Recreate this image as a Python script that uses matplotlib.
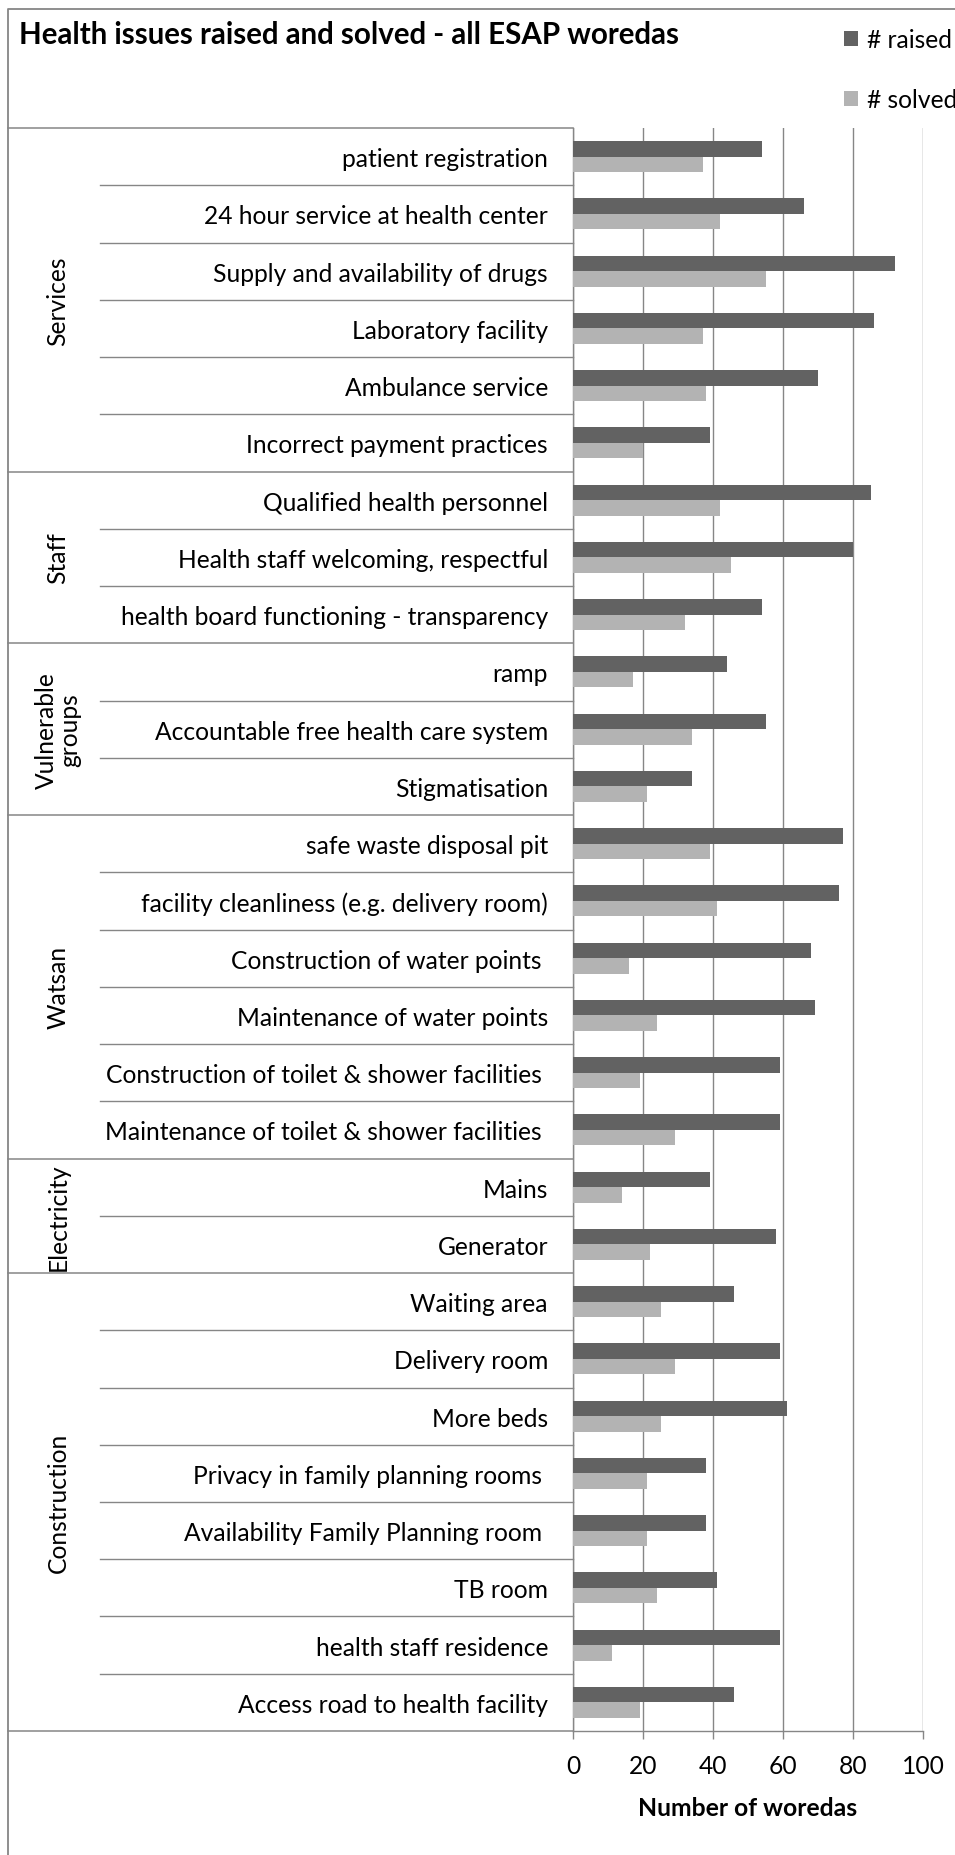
import matplotlib
matplotlib.use("Agg")
import matplotlib.pyplot as plt
from matplotlib.transforms import blended_transform_factory
from matplotlib.lines import Line2D
import numpy as np

# ---------------- data ----------------
categories = [
    "patient registration",
    "24 hour service at health center",
    "Supply and availability of drugs",
    "Laboratory facility",
    "Ambulance service",
    "Incorrect payment practices",
    "Qualified health personnel",
    "Health staff welcoming, respectful",
    "health board functioning - transparency",
    "ramp",
    "Accountable free health care system",
    "Stigmatisation",
    "safe waste disposal pit",
    "facility cleanliness (e.g. delivery room)",
    "Construction of water points ",
    "Maintenance of water points",
    "Construction of toilet & shower facilities ",
    "Maintenance of toilet & shower facilities ",
    "Mains",
    "Generator",
    "Waiting area",
    "Delivery room",
    "More beds",
    "Privacy in family planning rooms ",
    "Availability Family Planning room ",
    "TB room",
    "health staff residence",
    "Access road to health facility",
]
raised = [54, 66, 92, 86, 70, 39, 85, 80, 54, 44, 55, 34, 77, 76, 68, 69, 59, 59,
          39, 58, 46, 59, 61, 38, 38, 41, 59, 46]
solved = [37, 42, 55, 37, 38, 20, 42, 45, 32, 17, 34, 21, 39, 41, 16, 24, 19, 29,
          14, 22, 25, 29, 25, 21, 21, 24, 11, 19]
groups = ["Services", "Staff", "Vulnerable\ngroups", "Watsan", "Electricity", "Construction"]
group_sizes = [6, 3, 3, 6, 2, 8]
x_ticks = [0, 20, 40, 60, 80, 100]
series_names = ["# raised", "# solved"]
title_text = "Health issues raised and solved - all ESAP woredas"
xlabel_text = "Number of woredas"

# ---------------- style ----------------
W, H, DPI = 955, 1856, 100
FAMILY = "Lato"
LINE_C = "#868686"
RAISED_C = "#626262"
SOLVED_C = "#b3b3b3"
plt.rcParams["font.family"] = [FAMILY, "DejaVu Sans"]

fig = plt.figure(figsize=(W / DPI, H / DPI), dpi=DPI)
renderer = fig.canvas.get_renderer()


def fit_size(text, target_px, weight="normal"):
    t = fig.text(0, 0, text, fontsize=20, fontweight=weight)
    w = t.get_window_extent(renderer).width
    t.remove()
    return 20.0 * target_px / w


FS = fit_size("health board functioning - transparency", 429)
FS_TITLE = fit_size(title_text, 662, "bold")
FS_XLAB = fit_size(xlabel_text, 219, "bold")
fs_px = FS * DPI / 72.0

# axes placement in pixels
ax_left, ax_right, ax_top, ax_bottom = 573, 923, 129, 1732
ax = fig.add_axes([ax_left / W, 1 - ax_bottom / H, (ax_right - ax_left) / W,
                   (ax_bottom - ax_top) / H])

n = len(categories)
y = np.arange(n)
bh = 0.272
b1 = ax.barh(y - bh / 2, raised, height=bh, color=RAISED_C, label=series_names[0], zorder=3)
b2 = ax.barh(y + bh / 2, solved, height=bh, color=SOLVED_C, label=series_names[1], zorder=3)

ax.set_xlim(0, 100)
ax.set_ylim(n - 0.5, -0.5)
ax.set_xticks(x_ticks)
ax.set_xticklabels([str(v) for v in x_ticks], fontsize=FS)
ax.set_yticks(y)
ax.set_yticklabels(categories, fontsize=FS)
ax.tick_params(axis="y", length=0, pad=25 * 72 / DPI)
ax.tick_params(axis="x", length=8 * 72 / DPI, width=1.0, color=LINE_C, direction="out",
               pad=10.5)
ax.xaxis.grid(True, color=LINE_C, linewidth=1.0, zorder=0)
ax.set_axisbelow(True)
for s in ["top", "right"]:
    ax.spines[s].set_visible(False)
for s in ["left", "bottom"]:
    ax.spines[s].set_color(LINE_C)
    ax.spines[s].set_linewidth(1.0)
ax.set_xlabel(xlabel_text, fontsize=FS_XLAB, fontweight="bold", labelpad=14)

# separators of the multi-level category axis
tr = blended_transform_factory(fig.transFigure, ax.transData)
bounds = np.cumsum([0] + group_sizes)
for b in bounds:
    ax.add_line(Line2D([8 / W, ax_left / W], [b - 0.5, b - 0.5], transform=tr,
                       color=LINE_C, lw=1.1, clip_on=False))
for i in range(1, n):
    if i not in bounds:
        ax.add_line(Line2D([100 / W, ax_left / W], [i - 0.5, i - 0.5], transform=tr,
                           color=LINE_C, lw=1.0, clip_on=False))
for g, s0, sz in zip(groups, bounds[:-1], group_sizes):
    ax.text(58 / W, s0 + sz / 2 - 0.5, g, transform=tr, rotation=90, ha="center",
            va="center", fontsize=FS, multialignment="center", linespacing=1.0)

# outer chart border (right and bottom sides lie outside the picture)
fig.add_artist(Line2D([8 / W, 8 / W, 1.0], [0.0, 1 - 10 / H, 1 - 10 / H],
                      transform=fig.transFigure, color=LINE_C, lw=1.3))

# title
fig.text(19 / W, 1 - 44 / H, title_text, fontsize=FS_TITLE, fontweight="bold",
         ha="left", va="baseline")

# legend
hl = 14 / fs_px
fig.legend(handles=[b1, b2], labels=series_names, loc="upper left",
           bbox_to_anchor=(844 / W, 1 - 29 / H), frameon=False, fontsize=FS,
           borderpad=0, borderaxespad=0, handlelength=hl, handleheight=hl,
           handletextpad=0.35, labelspacing=1.5)

fig.savefig("out.png", dpi=DPI)
